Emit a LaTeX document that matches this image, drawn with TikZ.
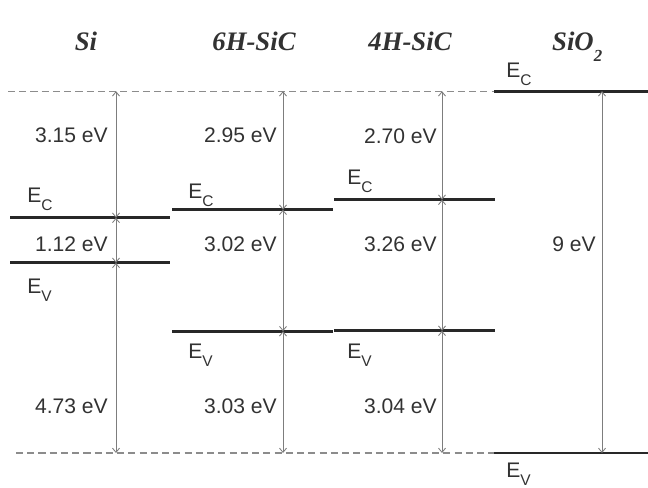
\documentclass[tikz,border=0pt]{standalone}
\usepackage{fontspec}
\setmainfont{Liberation Sans}
\newfontfamily\titlefont{Liberation Serif}
\usepackage{xcolor}
\definecolor{levelGray}{RGB}{40, 40, 40}
\definecolor{arrowGray}{RGB}{125, 125, 125}
\definecolor{dashGray}{RGB}{140, 140, 140}
\definecolor{textGray}{RGB}{50, 50, 50}
\usetikzlibrary{arrows.meta, positioning}
\newcommand{\lvsub}[1]{\raisebox{-0.72ex}{\fontsize{11}{12}\selectfont #1}}
\tikzset{
    level/.style={draw=levelGray, line width=2pt},
    vacuum/.style={draw=dashGray, line width=0.9pt, dash pattern=on 5pt off 3pt},
    gap/.style={{Straight Barb[length=3pt, width=5pt]}-{Straight Barb[length=3pt, width=5pt]}, draw=arrowGray, line width=0.6pt},
    val/.style={font=\fontsize{15}{17}\selectfont, text=textGray, anchor=east, inner sep=0pt},
    band/.style={font=\fontsize{15}{17}\selectfont, text=textGray, anchor=base west, inner sep=0pt},
    title/.style={font=\titlefont\bfseries\itshape\fontsize{19}{22}\selectfont, text=textGray, anchor=base}
}

\begin{document}
\begin{tikzpicture}
    \useasboundingbox (0,0) rectangle (16.2,12.175);
    \begin{scope}[yshift=0.85cm, y=1.005cm]
    % --- TITLES ---
    \node[title] (tSi) at (2.15,10.02) {Si};
    \node[title] (tSixH) at (6.35,10.02) {6H-SiC};
    \node[title] (tSifH) at (10.25,10.02) {4H-SiC};
    \node[title] (tOx) at (14.43,10.02) {SiO\raisebox{-8pt}{\fontsize{12}{14}\selectfont 2}};

    % --- REFERENCE LINES ---
    \draw[vacuum] (0.2,9) -- (12.35,9);
    \draw[vacuum] (0.4,0) -- (12.35,0);
    \draw[level] (12.35,9) -- (16.2,9);
    \draw[level] (12.35,0) -- (16.2,0);

    % --- Si ---
    \coordinate (siTop) at (2.9,9);
    \coordinate (siC) at (2.9,5.85);
    \coordinate (siV) at (2.9,4.73);
    \coordinate (siBot) at (2.9,0);
    \draw[level] (0.25,5.85) -- (4.25,5.85);
    \draw[level] (0.25,4.73) -- (4.25,4.73);
    \draw[gap] (siTop) -- (siC);
    \draw[gap] (siC) -- (siV);
    \draw[gap] (siV) -- (siBot);
    \node[val] (siChi) at (2.7,7.91) {3.15 eV};
    \node[val] (siEg) at (2.7,5.2) {1.12 eV};
    \node[val] (siPhi) at (2.7,1.17) {4.73 eV};
    \node[band] (siEC) at (0.675,6.22) {E\lvsub{C}};
    \node[band] (siEV) at (0.675,3.98) {E\lvsub{V}};

    % --- 6H-SiC ---
    \coordinate (sxTop) at (7.075,9);
    \coordinate (sxC) at (7.075,6.05);
    \coordinate (sxV) at (7.075,3.03);
    \coordinate (sxBot) at (7.075,0);
    \draw[level] (4.3,6.05) -- (8.325,6.05);
    \draw[level] (4.3,3.03) -- (8.325,3.03);
    \draw[gap] (sxTop) -- (sxC);
    \draw[gap] (sxC) -- (sxV);
    \draw[gap] (sxV) -- (sxBot);
    \node[val] (sxChi) at (6.925,7.91) {2.95 eV};
    \node[val] (sxEg) at (6.925,5.2) {3.02 eV};
    \node[val] (sxPhi) at (6.925,1.17) {3.03 eV};
    \node[band] (sxEC) at (4.7,6.32) {E\lvsub{C}};
    \node[band] (sxEV) at (4.7,2.35) {E\lvsub{V}};

    % --- 4H-SiC ---
    \coordinate (sfTop) at (11.05,9);
    \coordinate (sfC) at (11.05,6.30);
    \coordinate (sfV) at (11.05,3.04);
    \coordinate (sfBot) at (11.05,0);
    \draw[level] (8.35,6.30) -- (12.375,6.30);
    \draw[level] (8.35,3.04) -- (12.375,3.04);
    \draw[gap] (sfTop) -- (sfC);
    \draw[gap] (sfC) -- (sfV);
    \draw[gap] (sfV) -- (sfBot);
    \node[val] (sfChi) at (10.925,7.89) {2.70 eV};
    \node[val] (sfEg) at (10.925,5.2) {3.26 eV};
    \node[val] (sfPhi) at (10.925,1.17) {3.04 eV};
    \node[band] (sfEC) at (8.675,6.67) {E\lvsub{C}};
    \node[band] (sfEV) at (8.675,2.35) {E\lvsub{V}};

    % --- SiO2 ---
    \coordinate (oxC) at (15.05,9);
    \coordinate (oxV) at (15.05,0);
    \draw[gap] (oxC) -- (oxV);
    \node[val] (oxEg) at (14.9,5.2) {9 eV};
    \node[band] (oxEC) at (12.65,9.33) {E\lvsub{C}};
    \node[band] (oxEV) at (12.65,-0.6) {E\lvsub{V}};
    \end{scope}
\end{tikzpicture}
\end{document}
